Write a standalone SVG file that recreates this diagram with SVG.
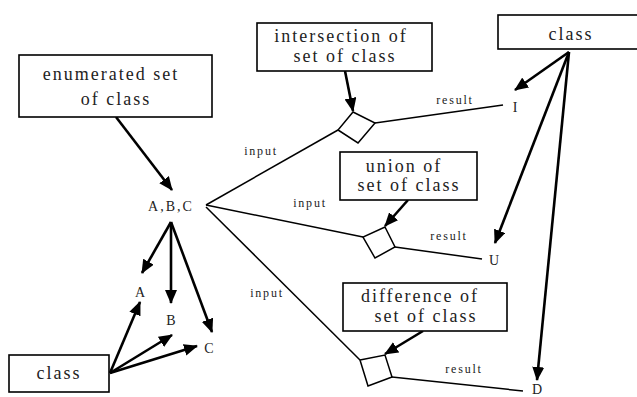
<svg xmlns="http://www.w3.org/2000/svg" width="637" height="397" viewBox="0 0 637 397">
<style>
.box{fill:#fff;stroke:#000;stroke-width:1.6}
text{font-family:"Liberation Serif","DejaVu Serif","Times New Roman",serif;fill:#222;text-anchor:middle}
.bt{font-size:18px;letter-spacing:2px}
.lbl{font-size:12px;letter-spacing:1.8px}
.let{font-size:14px;letter-spacing:2px}
.arr{stroke:#000;stroke-width:2.6;fill:none;marker-end:url(#ah)}
.thin{stroke:#000;stroke-width:1.5;fill:none}
.dia{fill:#fff;stroke:#000;stroke-width:1.5}
</style>
<defs>
<marker id="ah" markerUnits="userSpaceOnUse" markerWidth="14" markerHeight="12" viewBox="0 0 14 12" refX="13" refY="6" orient="auto">
<path d="M0,0 L14,6 L0,12 z" fill="#000"/>
</marker>
</defs>
<g id="connectors">
<line class="thin" x1="206" y1="205" x2="338" y2="130"/>
<line class="thin" x1="375" y1="123" x2="503" y2="105"/>
<line class="thin" x1="206" y1="205" x2="363" y2="237"/>
<line class="thin" x1="395" y1="247" x2="482" y2="259"/>
<line class="thin" x1="206" y1="207" x2="360" y2="360" stroke-width="1.1"/>
<line class="thin" x1="392" y1="377" x2="523" y2="391"/>
<line class="arr" x1="116" y1="117" x2="172" y2="190"/>
<line class="arr" x1="345" y1="71" x2="353" y2="111"/>
<line class="arr" x1="408" y1="200" x2="385" y2="226"/>
<line class="arr" x1="423" y1="331" x2="385" y2="354"/>
<line class="arr" x1="569" y1="52" x2="515" y2="90"/>
<line class="arr" x1="569" y1="52" x2="495" y2="243"/>
<line class="arr" x1="569" y1="52" x2="537" y2="380"/>
<line class="arr" x1="171" y1="222" x2="142" y2="273"/>
<line class="arr" x1="171" y1="222" x2="171" y2="303"/>
<line class="arr" x1="171" y1="222" x2="212" y2="332"/>
<line class="arr" x1="110" y1="373" x2="140" y2="302"/>
<line class="arr" x1="110" y1="373" x2="172" y2="335"/>
<line class="arr" x1="110" y1="373" x2="197" y2="346"/>
<text class="lbl" x="261" y="155">input</text>
<text class="lbl" x="455" y="104">result</text>
<text class="lbl" x="310" y="207">input</text>
<text class="lbl" x="449" y="240">result</text>
<text class="lbl" x="267" y="297">input</text>
<text class="lbl" x="464" y="373">result</text>
</g>
<g id="enumerated">
<rect class="box" x="19" y="55" width="193" height="62"/>
<text class="bt" x="111" y="80">enumerated set</text>
<text class="bt" x="116" y="105">of class</text>
</g>
<g id="intersection">
<rect class="box" x="257" y="23" width="175" height="48"/>
<text class="bt" x="341" y="42">intersection of</text>
<text class="bt" x="345" y="62">set of class</text>
</g>
<g id="union">
<rect class="box" x="340" y="152" width="137" height="48"/>
<text class="bt" x="404" y="172">union of</text>
<text class="bt" x="409" y="191">set of class</text>
</g>
<g id="difference">
<rect class="box" x="343" y="283" width="164" height="48"/>
<text class="bt" x="420" y="302">difference of</text>
<text class="bt" x="426" y="322">set of class</text>
</g>
<g id="class-top">
<rect class="box" x="498" y="15" width="150" height="34"/>
<text class="bt" x="571" y="40">class</text>
</g>
<g id="class-bottom">
<rect class="box" x="9" y="355" width="100" height="37"/>
<text class="bt" x="59" y="379">class</text>
</g>
<g id="op-intersection"><polygon class="dia" points="353,112 375,123 358,143 338,130"/></g>
<g id="op-union"><polygon class="dia" points="385,227 395,247 375,258 363,237"/></g>
<g id="op-difference"><polygon class="dia" points="360,360 385,355 392,377 368,386"/></g>
<g id="abc"><text class="let" x="171" y="211">A,B,C</text></g>
<g id="a"><text class="let" x="141" y="297">A</text></g>
<g id="b"><text class="let" x="172" y="325">B</text></g>
<g id="c"><text class="let" x="210" y="353">C</text></g>
<g id="i"><text class="let" x="516" y="112">I</text></g>
<g id="u"><text class="let" x="495" y="265">U</text></g>
<g id="d"><text class="let" x="538" y="394">D</text></g>
</svg>
